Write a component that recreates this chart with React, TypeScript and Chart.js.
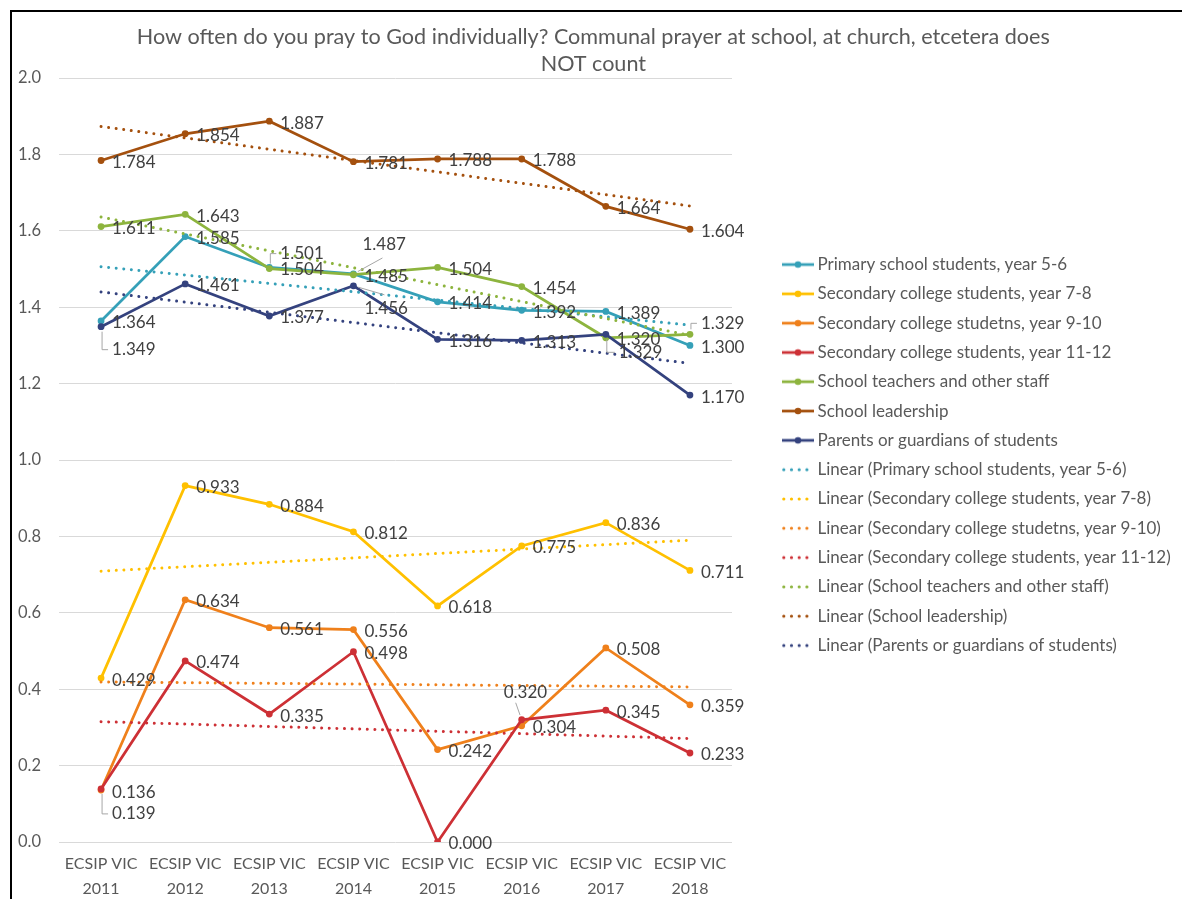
import React, { useEffect, useRef } from 'react';
import { Chart, registerables } from 'chart.js';

Chart.register(...registerables);

const FONT = 'Lato, "Open Sans", sans-serif';

const titleLines = [
  'How often do you pray to God individually? Communal prayer at school, at church, etcetera does',
  'NOT count',
];

const categories = [
  'ECSIP VIC 2011',
  'ECSIP VIC 2012',
  'ECSIP VIC 2013',
  'ECSIP VIC 2014',
  'ECSIP VIC 2015',
  'ECSIP VIC 2016',
  'ECSIP VIC 2017',
  'ECSIP VIC 2018',
];

const seriesNames = [
  'Primary school students, year 5-6',
  'Secondary college students, year 7-8',
  'Secondary college studetns, year 9-10',
  'Secondary college students, year 11-12',
  'School teachers and other staff',
  'School leadership',
  'Parents or guardians of students',
];

const primaryYear56 = [1.364, 1.585, 1.504, 1.487, 1.414, 1.392, 1.389, 1.3];
const secondaryYear78 = [0.429, 0.933, 0.884, 0.812, 0.618, 0.775, 0.836, 0.711];
const secondaryYear910 = [0.136, 0.634, 0.561, 0.556, 0.242, 0.304, 0.508, 0.359];
const secondaryYear1112 = [0.139, 0.474, 0.335, 0.498, 0.0, 0.32, 0.345, 0.233];
const teachersStaff = [1.611, 1.643, 1.501, 1.485, 1.504, 1.454, 1.32, 1.329];
const leadership = [1.784, 1.854, 1.887, 1.781, 1.788, 1.788, 1.664, 1.604];
const parentsGuardians = [1.349, 1.461, 1.377, 1.456, 1.316, 1.313, 1.329, 1.17];

// Linear trendline end values (first and last category), per series
const trendStart = [1.506, 0.709, 0.419, 0.315, 1.636, 1.873, 1.44];
const trendEnd = [1.353, 0.79, 0.406, 0.271, 1.326, 1.665, 1.253];

const yMin = 0;
const yMax = 2;
const yStep = 0.2;

const seriesValues = [
  primaryYear56,
  secondaryYear78,
  secondaryYear910,
  secondaryYear1112,
  teachersStaff,
  leadership,
  parentsGuardians,
];

const seriesColors = ['#35A0B8', '#FFC000', '#EF801B', '#CD3035', '#8DB43E', '#A4500E', '#34427E'];

// label displacement (style only): series index, point index, pixel offsets, leader type
type Nudge = { s: number; p: number; dx: number; dy: number; leader: 'elbow' | [number, number] };
const labelNudges: Nudge[] = [
  { s: 6, p: 0, dx: 0, dy: 21, leader: 'elbow' },
  { s: 3, p: 0, dx: 0, dy: 23, leader: 'elbow' },
  { s: 4, p: 2, dx: 0, dy: -17, leader: 'elbow' },
  { s: 0, p: 3, dx: -2, dy: -31, leader: [20, 13] },
  { s: 6, p: 3, dx: 0, dy: 21, leader: [20, -14] },
  { s: 3, p: 5, dx: -29, dy: -29, leader: [12, 10] },
  { s: 6, p: 6, dx: 2, dy: 16, leader: 'elbow' },
  { s: 4, p: 7, dx: 0, dy: -13, leader: 'elbow' },
];

function makeLegendImage(color: string, dotted: boolean): HTMLCanvasElement {
  const c = document.createElement('canvas');
  c.width = 32;
  c.height = 10;
  const g = c.getContext('2d')!;
  g.fillStyle = color;
  g.strokeStyle = color;
  if (dotted) {
    [1.8, 9.5, 17.2, 24.9].forEach((x) => {
      g.beginPath();
      g.arc(x, 5, 1.6, 0, Math.PI * 2);
      g.fill();
    });
  } else {
    g.lineWidth = 2.75;
    g.beginPath();
    g.moveTo(0, 5);
    g.lineTo(32, 5);
    g.stroke();
    g.beginPath();
    g.arc(16, 5, 3.3, 0, Math.PI * 2);
    g.fill();
  }
  return c;
}

const dataLabelPlugin = {
  id: 'pointValueLabels',
  afterDatasetsDraw(chart: any) {
    const ctx = chart.ctx;
    ctx.save();
    ctx.font = `17px ${FONT}`;
    ctx.textBaseline = 'middle';
    ctx.textAlign = 'left';
    seriesValues.forEach((vals, si) => {
      const meta = chart.getDatasetMeta(si);
      meta.data.forEach((pt: any, i: number) => {
        const n = labelNudges.find((q) => q.s === si && q.p === i);
        const lx = pt.x + 11 + (n ? n.dx : 0);
        const ly = pt.y + 2 + (n ? n.dy : 0);
        if (n) {
          ctx.strokeStyle = '#A6A6A6';
          ctx.lineWidth = 1;
          ctx.beginPath();
          if (n.leader === 'elbow') {
            const sgn = n.dy > 0 ? 1 : -1;
            ctx.moveTo(pt.x + 1, pt.y + sgn * 5);
            ctx.lineTo(pt.x + 1, ly);
            ctx.lineTo(lx - 4, ly);
          } else {
            const ex = lx + n.leader[0];
            const ey = ly + n.leader[1];
            const ang = Math.atan2(ey - pt.y, ex - pt.x);
            ctx.moveTo(pt.x + Math.cos(ang) * 5, pt.y + Math.sin(ang) * 5);
            ctx.lineTo(ex, ey);
          }
          ctx.stroke();
        }
        ctx.fillStyle = '#404040';
        ctx.fillText(vals[i].toFixed(3), lx, ly);
      });
    });
    ctx.restore();
  },
};

export default function App() {
  const canvasRef = useRef<HTMLCanvasElement | null>(null);

  useEffect(() => {
    if (!canvasRef.current) return;

    const mainSets = seriesValues.map((vals, i) => ({
      label: seriesNames[i],
      data: vals,
      borderColor: seriesColors[i],
      backgroundColor: seriesColors[i],
      borderWidth: 2.75,
      pointRadius: 3.4,
      pointBorderWidth: 0,
      pointBackgroundColor: seriesColors[i],
      tension: 0,
      order: -i,
    }));

    const trendSets = seriesValues.map((_, i) => ({
      label: `Linear (${seriesNames[i]})`,
      data: [
        { x: categories[0], y: trendStart[i] },
        { x: categories[categories.length - 1], y: trendEnd[i] },
      ],
      borderColor: seriesColors[i],
      backgroundColor: seriesColors[i],
      borderWidth: 3,
      borderDash: [0.01, 7.6],
      borderCapStyle: 'round' as const,
      pointRadius: 0,
      tension: 0,
      order: -20 - i,
    }));

    const legendImages = [
      ...seriesColors.map((c) => makeLegendImage(c, false)),
      ...seriesColors.map((c) => makeLegendImage(c, true)),
    ];

    const chart = new Chart(canvasRef.current, {
      type: 'line',
      data: {
        labels: categories,
        datasets: [...mainSets, ...trendSets] as any,
      },
      options: {
        responsive: false,
        animation: false,
        events: [],
        layout: { padding: { left: 0, right: 7.3, top: 0, bottom: 1 } },
        scales: {
          x: {
            type: 'category',
            offset: true,
            grid: { display: false, drawTicks: false },
            border: { display: false },
            ticks: {
              color: '#595959',
              font: { family: FONT, size: 16, lineHeight: 1.5625 },
              padding: 9,
              autoSkip: false,
              maxRotation: 0,
              callback: (_v: any, i: number) => {
                const s = categories[i];
                const k = s.lastIndexOf(' ');
                return [s.slice(0, k), s.slice(k + 1)];
              },
            },
            afterFit: (s: any) => {
              s.height = 56;
            },
          },
          y: {
            min: yMin,
            max: yMax,
            grid: { color: '#D9D9D9', lineWidth: 1, drawTicks: false },
            border: { display: false },
            ticks: {
              stepSize: yStep,
              color: '#595959',
              font: { family: FONT, size: 16.5 },
              padding: 18,
              callback: (v: any) => Number(v).toFixed(1),
            },
            afterFit: (s: any) => {
              s.width = 47;
            },
          },
          gap: {
            position: 'right',
            display: true,
            grid: { display: false, drawTicks: false },
            border: { display: false },
            ticks: { display: false },
            afterFit: (s: any) => {
              s.width = 42.7;
            },
          },
        } as any,
        plugins: {
          title: {
            display: true,
            text: titleLines,
            color: '#595959',
            font: { family: FONT, size: 21.6, weight: 'normal', lineHeight: 1.25 },
            padding: { top: 11.5, bottom: 0.5 },
          },
          legend: {
            display: true,
            position: 'right',
            align: 'center',
            maxWidth: 400,
            labels: {
              usePointStyle: true,
              pointStyleWidth: 22,
              padding: 12.3,
              color: '#595959',
              font: { family: FONT, size: 17 },
              sort: (a: any, b: any) => a.datasetIndex - b.datasetIndex,
              generateLabels: (ch: any) => {
                const base = Chart.defaults.plugins.legend.labels.generateLabels(ch);
                return base.map((item: any) => ({
                  ...item,
                  pointStyle: legendImages[item.datasetIndex],
                }));
              },
            },
          },
          tooltip: { enabled: false },
        },
      },
      plugins: [dataLabelPlugin],
    });

    return () => chart.destroy();
  }, []);

  return (
    <div
      style={{
        position: 'absolute',
        left: 10,
        top: 10,
        width: 1170,
        height: 887,
        borderLeft: '2px solid #000',
        borderTop: '2px solid #000',
        background: '#fff',
      }}
    >
      <canvas ref={canvasRef} width={1170} height={887} style={{ display: 'block' }} />
    </div>
  );
}
